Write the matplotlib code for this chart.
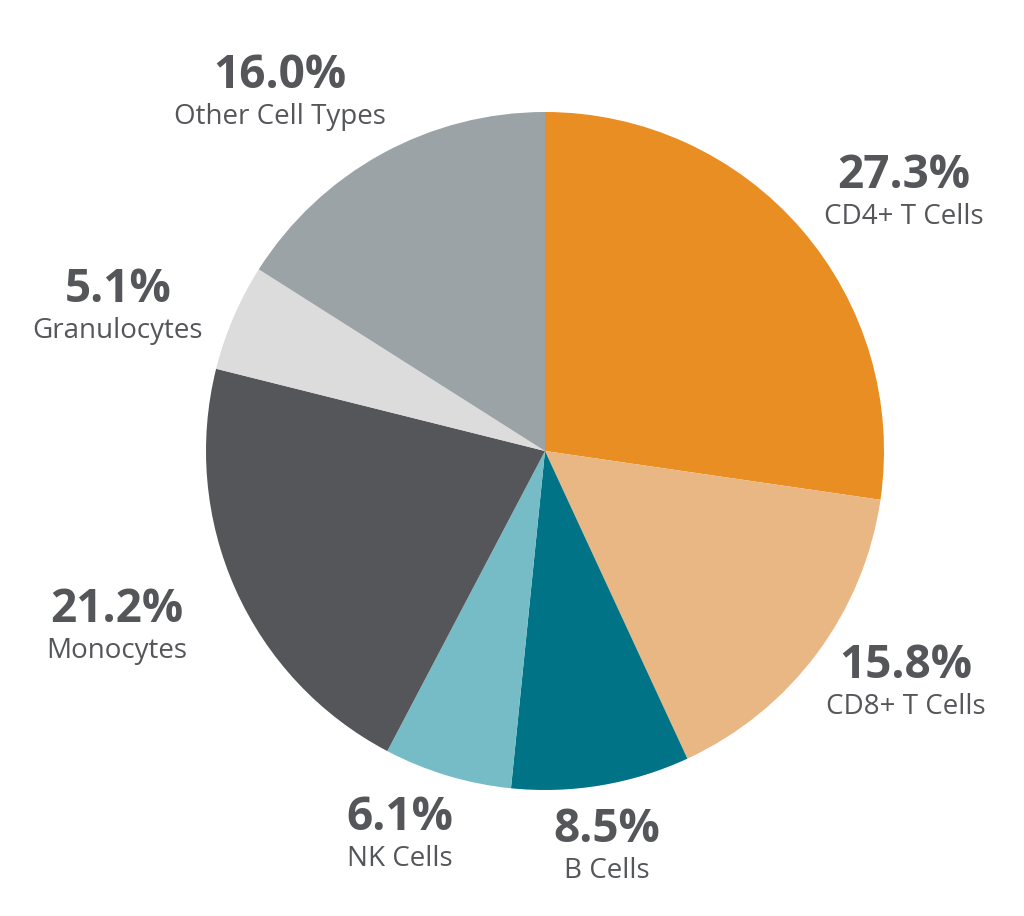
import matplotlib
matplotlib.use('Agg')
import matplotlib.pyplot as plt

# data
labels = ['CD4+ T Cells', 'CD8+ T Cells', 'B Cells', 'NK Cells',
          'Monocytes', 'Granulocytes', 'Other Cell Types']
values = [27.3, 15.8, 8.5, 6.1, 21.2, 5.1, 16.0]
colors = ['#E98E22', '#E9B784', '#007486', '#76BCC6',
          '#545659', '#DCDCDC', '#9BA3A7']

# label anchor (pixel coords in the 1024x916 canvas, y down)
label_pos = [(904, 176), (906, 666), (607, 830), (400, 818),
             (117, 610), (118, 290), (280, 76)]

W, H = 1024, 916
fig = plt.figure(figsize=(W / 100, H / 100), dpi=100)
ax = fig.add_axes([0, 0, 1, 1])

ax.pie(values, colors=colors, startangle=90, counterclock=False,
       center=(545, H - 451), radius=339,
       wedgeprops=dict(linewidth=0))

# pie() resets the limits, so set them afterwards
ax.set_xlim(0, W)
ax.set_ylim(0, H)
ax.set_aspect('equal')
ax.axis('off')

txt_color = '#54565A'
for lab, v, (px, py) in zip(labels, values, label_pos):
    ax.text(px, H - py, f'{v:.1f}%', ha='center', va='center',
            fontsize=33, fontweight='bold', family='Open Sans', color=txt_color)
    ax.text(px, H - py - 41, lab, ha='center', va='center',
            fontsize=20, family='Open Sans', color=txt_color)

fig.savefig('out.png', dpi=100)
